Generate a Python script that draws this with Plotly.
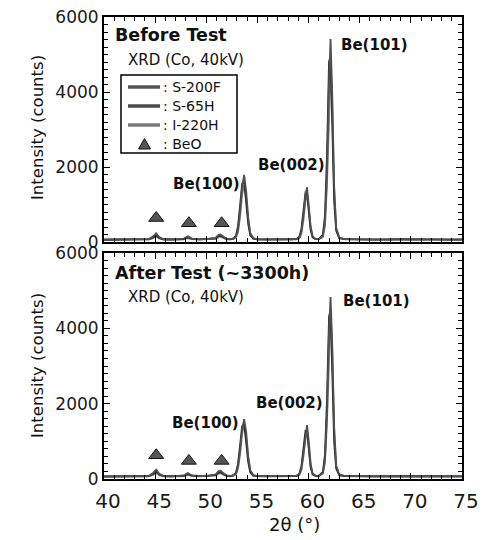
import plotly.graph_objects as go

# ---------------- data ----------------
two_theta = [40, 41.5, 43, 44.4, 44.8, 45.1, 45.4, 45.8, 46.5, 47.2, 47.8, 48.2, 48.6, 49.3,
             50.2, 50.9, 51.2, 51.4, 51.7, 52.0, 52.3, 52.6, 52.9, 53.1, 53.3, 53.5, 53.7,
             53.9, 54.1, 54.3, 54.6, 55.0, 56.0, 57.5, 58.3, 58.8, 59.1, 59.3, 59.5, 59.7,
             59.85, 60.0, 60.2, 60.4, 60.7, 61.0, 61.4, 61.6, 61.8, 62.0, 62.15, 62.3, 62.5,
             62.7, 63.0, 63.5, 65.0, 66.5, 68.0, 69.0, 70.5, 72.0, 73.5, 75.0]

before_s200f = [70, 65, 75, 80, 150, 230, 130, 80, 70, 75, 90, 150, 90, 75, 80, 110, 190, 200,
                140, 90, 80, 90, 140, 320, 800, 1450, 1790, 1350, 650, 240, 100, 75, 70, 70,
                75, 80, 120, 280, 700, 1250, 1460, 1080, 420, 150, 80, 85, 160, 520, 1800,
                4300, 5410, 4100, 1500, 380, 120, 80, 70, 65, 75, 70, 65, 70, 65, 70]
before_s65h = [60, 70, 65, 75, 120, 180, 110, 70, 65, 70, 80, 120, 85, 70, 75, 95, 160, 170,
               120, 80, 75, 85, 170, 420, 950, 1550, 1620, 1100, 480, 180, 90, 70, 65, 70,
               70, 75, 140, 350, 820, 1320, 1300, 850, 320, 120, 75, 80, 200, 700, 2300,
               4800, 4950, 3300, 1100, 300, 100, 75, 65, 70, 65, 75, 70, 60, 70, 65]
before_i220h = [55, 60, 60, 65, 100, 150, 95, 65, 60, 65, 70, 100, 75, 65, 70, 85, 130, 140,
                100, 70, 65, 75, 110, 260, 650, 1250, 1520, 1200, 600, 210, 85, 65, 60, 60,
                65, 70, 100, 230, 580, 1100, 1250, 950, 380, 130, 70, 75, 130, 420, 1500,
                3600, 4500, 3800, 1400, 350, 110, 70, 60, 60, 65, 60, 60, 65, 60, 60]

after_s200f = [75, 70, 80, 85, 160, 250, 140, 85, 75, 80, 95, 160, 95, 80, 85, 120, 210, 220,
               150, 95, 85, 95, 150, 330, 750, 1300, 1590, 1250, 600, 230, 100, 80, 75, 75,
               80, 85, 125, 280, 680, 1220, 1430, 1050, 410, 150, 85, 90, 165, 500, 1700,
               3900, 4830, 3700, 1400, 360, 120, 85, 75, 70, 80, 75, 70, 75, 70, 75]
after_s65h = [65, 75, 70, 80, 130, 200, 120, 75, 70, 75, 85, 130, 90, 75, 80, 100, 170, 180,
              130, 85, 80, 90, 170, 400, 880, 1400, 1480, 1000, 450, 170, 90, 75, 70, 75,
              75, 80, 140, 340, 780, 1280, 1270, 820, 310, 120, 80, 85, 190, 650, 2100,
              4300, 4500, 3000, 1000, 280, 100, 80, 70, 75, 70, 80, 75, 65, 75, 70]
after_i220h = [60, 65, 65, 70, 110, 160, 100, 70, 65, 70, 75, 110, 80, 70, 75, 90, 140, 150,
               105, 75, 70, 80, 115, 270, 640, 1200, 1420, 1120, 560, 200, 85, 70, 65, 65,
               70, 75, 105, 240, 600, 1100, 1230, 930, 370, 130, 75, 80, 140, 430, 1500,
               3500, 4300, 3600, 1300, 330, 110, 75, 65, 65, 70, 65, 65, 70, 65, 65]

beo_x = [45.1, 48.3, 51.5]
beo_before = [640, 500, 500]
beo_after = [630, 480, 480]

series_names = [": S-200F", ": S-65H", ": I-220H"]
beo_name = ": BeO"
x_ticks = [40, 45, 50, 55, 60, 65, 70, 75]
y_ticks = [0, 2000, 4000, 6000]

# ---------------- styling ----------------
FONT = "DejaVu Sans"
colors = {": S-200F": "#505050", ": S-65H": "#262626", ": I-220H": "#8a8a8a"}
legend_colors = {": S-200F": "#555555", ": S-65H": "#4a4a4a", ": I-220H": "#7a7a7a"}
L, R, T, B = 104, 462, 17, 479   # plot area in pixels
W, H = 484, 540


def px(xp):
    return (xp - L) / (R - L)


def py(yp):
    return (B - yp) / (B - T)


fig = go.Figure()

panels = [
    ("x", "y", [before_s200f, before_s65h, before_i220h], beo_before),
    ("x2", "y2", [after_s200f, after_s65h, after_i220h], beo_after),
]
draw_order = [2, 1, 0]
beo_marker = dict(symbol="triangle-up", size=13, color="#555555",
                  line=dict(color="#111111", width=1))
for xa, ya, ys, beo in panels:
    for i in draw_order:
        fig.add_trace(go.Scatter(
            x=two_theta, y=ys[i], mode="lines", name=series_names[i],
            line=dict(color=colors[series_names[i]], width=1.8),
            xaxis=xa, yaxis=ya, showlegend=False))
    fig.add_trace(go.Scatter(
        x=beo_x, y=beo, mode="markers", name=beo_name, marker=beo_marker,
        xaxis=xa, yaxis=ya, showlegend=False))

axis_common = dict(showline=True, linewidth=2, linecolor="black", mirror="ticks",
                   ticks="inside", ticklen=6, tickwidth=1.2, tickcolor="black",
                   showgrid=False, zeroline=False, automargin=False)

fig.update_layout(
    width=W, height=H,
    margin=dict(l=L, r=W - R, t=T, b=H - B, autoexpand=False),
    paper_bgcolor="white", plot_bgcolor="white",
    font=dict(family=FONT, color="#1a1a1a"),
    xaxis=dict(range=[40, 75], tickvals=x_ticks, showticklabels=False,
               anchor="y", minor=dict(dtick=1, tick0=40, ticks="inside", ticklen=4,
                                      tickcolor="black"),
               **axis_common),
    xaxis2=dict(range=[40, 75], tickvals=x_ticks, anchor="y2",
                tickfont=dict(size=20, family=FONT, color="#1a1a1a"),
                ticklabelshift=4, ticklabelstandoff=3,
                minor=dict(dtick=1, tick0=40, ticks="inside", ticklen=4, tickcolor="black"),
                **axis_common),
    yaxis=dict(range=[0, 6000], tickvals=y_ticks, domain=[py(242), 1.0], anchor="x",
               tickfont=dict(size=17, family=FONT, color="#1a1a1a"),
               minor=dict(dtick=200, ticks="inside", ticklen=4, tickcolor="black"),
               **axis_common),
    yaxis2=dict(range=[0, 6000], tickvals=y_ticks, domain=[0.0, py(253)], anchor="x2",
                tickfont=dict(size=17, family=FONT, color="#1a1a1a"),
                minor=dict(dtick=200, ticks="inside", ticklen=4, tickcolor="black"),
                **axis_common),
    showlegend=False,
)


def ann(text, x, y, size, bold=False, xanchor="left", angle=0):
    fig.add_annotation(text=f"<b>{text}</b>" if bold else text,
                       x=px(x), y=py(y), xref="paper", yref="paper",
                       xanchor=xanchor, yanchor="middle", showarrow=False,
                       textangle=angle,
                       font=dict(size=size, family=FONT, color="#111111"))


# ---- key (legend) box drawn as in the reference ----
fig.add_shape(type="rect", xref="paper", yref="paper",
              x0=px(121), x1=px(237), y0=py(153), y1=py(75),
              line=dict(color="black", width=1.5), fillcolor="white", layer="above")
key_rows = [87, 106, 125]
for nm, yy in zip(series_names, key_rows):
    fig.add_shape(type="line", xref="paper", yref="paper",
                  x0=px(128), x1=px(160), y0=py(yy), y1=py(yy),
                  line=dict(color=legend_colors[nm], width=3.5), layer="above")
    ann(nm, 161, yy, 14)
tri_y = 144
fig.add_shape(type="path", xref="paper", yref="paper",
              path=f"M {px(138.5)} {py(tri_y + 5)} L {px(150.5)} {py(tri_y + 5)} "
                   f"L {px(144.5)} {py(tri_y - 5.5)} Z",
              fillcolor="#555555", line=dict(color="#111111", width=1), layer="above")
ann(beo_name, 161, tri_y, 14)

ann("Before Test", 113, 35, 17.5, bold=True)
ann("XRD (Co, 40kV)", 126, 60, 15)
ann("Be(100)", 206, 184, 15, bold=True, xanchor="center")
ann("Be(002)", 291, 165, 15, bold=True, xanchor="center")
ann("Be(101)", 374, 45, 15, bold=True, xanchor="center")

ann("After Test (~3300h)", 113, 273, 17.5, bold=True)
ann("XRD (Co, 40kV)", 126, 297, 15)
ann("Be(100)", 205, 423, 15, bold=True, xanchor="center")
ann("Be(002)", 289, 403, 15, bold=True, xanchor="center")
ann("Be(101)", 376, 301, 15, bold=True, xanchor="center")

ann("Intensity (counts)", 37, 128, 16.5, xanchor="center", angle=-90)
ann("Intensity (counts)", 37, 366, 16.5, xanchor="center", angle=-90)
ann("2θ (°)", 294, 524, 18, xanchor="center")

fig.write_html("out.html",
               config={"displayModeBar": False},
               post_script="document.body.style.margin='0px';"
                           "document.body.style.overflow='hidden';")
